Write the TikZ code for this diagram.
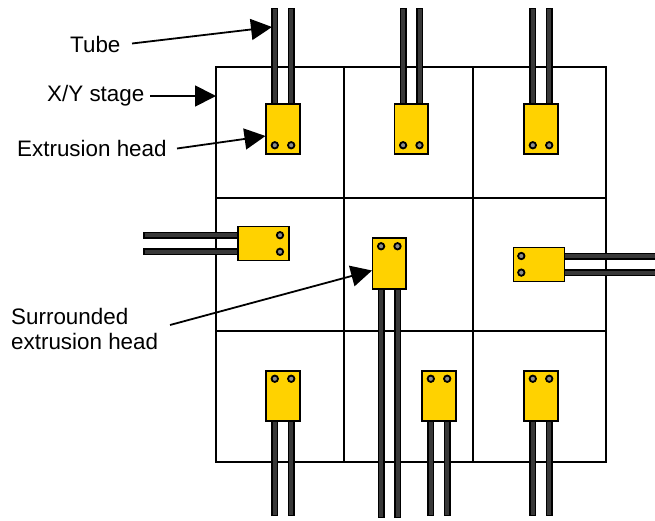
\documentclass[tikz,border=0pt]{standalone}
\usepackage{fontspec}
\setmainfont{Liberation Sans}
\usetikzlibrary{arrows.meta, backgrounds}
\definecolor{headyellow}{HTML}{FFD200}
\definecolor{tubegray}{HTML}{383838}
\definecolor{holegray}{HTML}{8C8C8C}
\tikzset{
	label/.style={inner sep=0pt, align=left, font=\fontsize{22.4}{25}\selectfont},
	headv/.style={draw, fill=headyellow, line width=1.6pt, outer sep=0pt, inner sep=0pt, minimum width=33.5pt, minimum height=50.5pt},
	headh/.style={headv, minimum width=51pt, minimum height=34pt},
	tube/.style={line width=1.5pt, double=tubegray, double distance=4pt, line cap=rect},
	hole/.style={draw, fill=holegray, line width=1.8pt},
	grid/.style={line width=1.8pt},
	pointer/.style={line width=1.8pt, -{Triangle[length=21pt,width=21pt]}}
}

\begin{document}
\begin{tikzpicture}[x=1pt, y=-1pt]

	\useasboundingbox (0,0) rectangle (655,520);

	% heads
	\node[headv] (heada) at (283,129) {};
	\node[headv] (headb) at (411.3,129) {};
	\node[headv] (headc) at (541,129) {};
	\node[headh] (headd) at (263.5,243.5) {};
	\node[headv] (heade) at (389.3,263.5) {};
	\node[headh] (headf) at (538.8,264.3) {};
	\node[headv] (headg) at (283,396) {};
	\node[headv] (headh) at (439,396) {};
	\node[headv] (headi) at (541,396) {};

	% holes
	\foreach \h in {heada, headb, headc} {
		\draw[hole] ([xshift=-8.2pt, yshift=9pt]\h.south) circle(3.2);
		\draw[hole] ([xshift=8.2pt, yshift=9pt]\h.south) circle(3.2);
	}
	\foreach \h in {heade, headg, headh, headi} {
		\draw[hole] ([xshift=-8.2pt, yshift=-8pt]\h.north) circle(3.2);
		\draw[hole] ([xshift=8.2pt, yshift=-8pt]\h.north) circle(3.2);
	}
	\draw[hole] ([xshift=-9pt, yshift=8.3pt]headd.east) circle(3.2);
	\draw[hole] ([xshift=-9pt, yshift=-8.3pt]headd.east) circle(3.2);
	\draw[hole] ([xshift=8pt, yshift=8.3pt]headf.west) circle(3.2);
	\draw[hole] ([xshift=8pt, yshift=-8.3pt]headf.west) circle(3.2);

	% free ends of the tubes
	\foreach \h in {heada, headb, headc} {
		\coordinate (\h l) at ([xshift=-8.2pt, yshift=92.5pt]\h.north);
		\coordinate (\h r) at ([xshift=8.2pt, yshift=92.5pt]\h.north);
	}
	\foreach \h in {headg, headh, headi} {
		\coordinate (\h l) at ([xshift=-8.2pt, yshift=-91.5pt]\h.south);
		\coordinate (\h r) at ([xshift=8.2pt, yshift=-91.5pt]\h.south);
	}
	\coordinate (headel) at ([xshift=-8.2pt, yshift=-226pt]heade.south);
	\coordinate (heade r) at ([xshift=8.2pt, yshift=-226pt]heade.south);
	\coordinate (headdl) at ([xshift=-91.5pt, yshift=8.3pt]headd.west);
	\coordinate (headdr) at ([xshift=-91.5pt, yshift=-8.3pt]headd.west);
	\coordinate (headfl) at ([xshift=95pt, yshift=8.3pt]headf.east);
	\coordinate (headfr) at ([xshift=95pt, yshift=-8.3pt]headf.east);

	\begin{scope}[on background layer]
		% stage
		\draw[grid] (216,67) rectangle (606,462);
		\draw[grid] (344,67) -- (344,462);
		\draw[grid] (473,67) -- (473,462);
		\draw[grid] (216,198) -- (606,198);
		\draw[grid] (216,331) -- (606,331);

		% tubes
		\foreach \h in {heada, headb, headc} {
			\draw[tube] ([xshift=-8.2pt]\h.north) -- (\h l);
			\draw[tube] ([xshift=8.2pt]\h.north) -- (\h r);
		}
		\foreach \h in {headg, headh, headi} {
			\draw[tube] ([xshift=-8.2pt]\h.south) -- (\h l);
			\draw[tube] ([xshift=8.2pt]\h.south) -- (\h r);
		}
		\draw[tube] ([xshift=-8.2pt]heade.south) -- (headel);
		\draw[tube] ([xshift=8.2pt]heade.south) -- (heade r);
		\draw[tube] ([yshift=8.3pt]headd.west) -- (headdl);
		\draw[tube] ([yshift=-8.3pt]headd.west) -- (headdr);
		\draw[tube] ([yshift=8.3pt]headf.east) -- (headfl);
		\draw[tube] ([yshift=-8.3pt]headf.east) -- (headfr);
	\end{scope}

	% labels
	\node[label, anchor=west] (tubelabel) at (70,44.5) {Tube};
	\node[label, anchor=west] (stagelabel) at (47,96) {X/Y stage};
	\node[label, anchor=west] (headlabel) at (17,148) {Extrusion head};
	\node[label, anchor=west] (surroundlabel) at (11,329) {Surrounded\\extrusion head};

	\coordinate (tubetip) at (272,27);
	\coordinate (stagetip) at (216,96);
	\coordinate (headtip) at (265.5,136);
	\coordinate (surroundtip) at (372,270.5);
	\coordinate (tubestart) at (132,43.5);
	\coordinate (stagestart) at (150,96);
	\coordinate (headstart) at (177,148.5);
	\coordinate (surroundstart) at (170,325);

	\draw[pointer] (tubestart) -- (tubetip);
	\draw[pointer] (stagestart) -- (stagetip);
	\draw[pointer] (headstart) -- (headtip);
	\draw[pointer] (surroundstart) -- (surroundtip);

\end{tikzpicture}
\end{document}
